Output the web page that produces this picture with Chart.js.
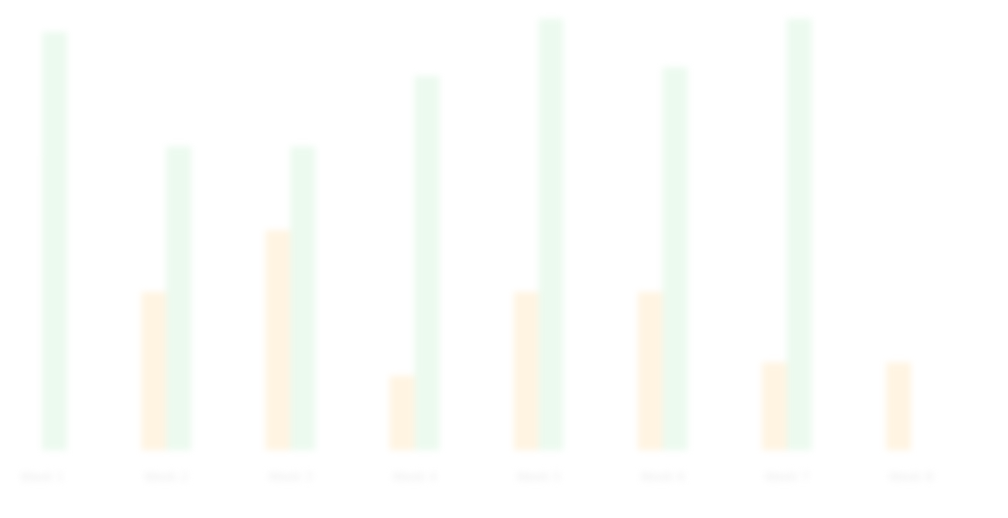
<!DOCTYPE html>
<html>
<head>
<meta charset="utf-8">
<script src="https://cdn.jsdelivr.net/npm/chart.js@4/dist/chart.umd.min.js"></script>
<style>
html,body{margin:0;padding:0;background:#fff;}
#wrap{width:1008px;height:518px;}
canvas{filter:blur(3px);}
</style>
</head>
<body>
<div id="wrap"><canvas id="c" width="1008" height="518"></canvas></div>
<script>
const categories = ["Week 1","Week 2","Week 3","Week 4","Week 5","Week 6","Week 7","Week 8"];
const seriesA = [67, 36, 50, 17, 36, 36, 20, 20];
const seriesB = [95, 69, 69, 85, 98, 87, 98, 88];
const yMin = 0;
const yMax = 100;

new Chart(document.getElementById('c'), {
  type: 'bar',
  data: {
    labels: categories,
    datasets: [
      {label: 'A', data: seriesA, backgroundColor: 'rgb(255,244,226)', borderWidth: 0, categoryPercentage: 0.4, barPercentage: 1.0},
      {label: 'B', data: seriesB, backgroundColor: 'rgb(236,250,239)', borderWidth: 0, categoryPercentage: 0.4, barPercentage: 1.0}
    ]
  },
  options: {
    responsive: false,
    animation: false,
    layout: {padding: {left: 36, right: 97, top: 10, bottom: 13}},
    plugins: {legend: {display: false}, tooltip: {enabled: false}},
    scales: {
      x: {
        offset: false,
        grid: {display: false, drawTicks: false},
        border: {display: false},
        ticks: {color: 'rgb(236,236,236)', font: {family: 'DejaVu Sans', size: 12}, padding: 20, maxRotation: 0}
      },
      y: {display: false, min: yMin, max: yMax}
    }
  }
});
</script>
</body>
</html>
